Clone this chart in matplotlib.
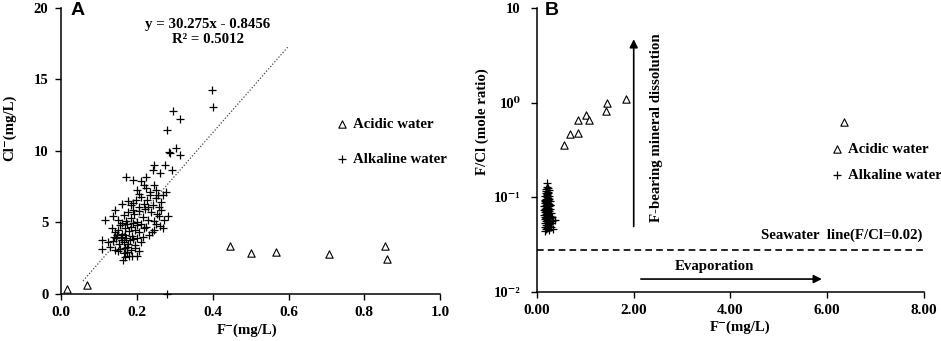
import matplotlib
matplotlib.use("Agg")
import matplotlib.pyplot as plt
from matplotlib.ticker import FixedLocator, FixedFormatter, NullLocator

serif = ["Liberation Serif", "DejaVu Serif"]
plt.rcParams["font.family"] = serif
plt.rcParams["font.weight"] = "bold"

# ---- panel A: Cl- vs F- ----
a_acid_f = [0.016, 0.069, 0.447, 0.500, 0.566, 0.707, 0.854, 0.859]
a_acid_cl = [0.37, 0.61, 3.33, 2.87, 2.91, 2.82, 3.33, 2.45]

a_alk = [
    (0.163, 2.40), (0.170, 2.55), (0.180, 2.68), (0.187, 2.63), (0.200, 2.68), (0.165, 2.85),
    (0.175, 2.95), (0.150, 3.00), (0.142, 3.10), (0.155, 3.15), (0.185, 3.05), (0.195, 3.20),
    (0.107, 3.15), (0.130, 3.30), (0.168, 3.20), (0.205, 3.00),
    (0.107, 3.80), (0.125, 3.60), (0.138, 3.70), (0.145, 3.90), (0.152, 3.50), (0.160, 3.80),
    (0.165, 3.60), (0.172, 3.90), (0.178, 3.50), (0.183, 3.75), (0.190, 3.85), (0.195, 3.40),
    (0.200, 3.90), (0.210, 3.60), (0.215, 4.00), (0.140, 3.95), (0.158, 3.95), (0.175, 3.30),
    (0.188, 4.05), (0.170, 4.10),
    (0.135, 4.60), (0.142, 4.30), (0.150, 4.50), (0.155, 4.80), (0.162, 4.20), (0.168, 4.60),
    (0.175, 4.90), (0.180, 4.40), (0.185, 4.70), (0.190, 4.95), (0.195, 4.50), (0.200, 4.80),
    (0.205, 4.30), (0.218, 4.60), (0.225, 4.70), (0.233, 4.10), (0.244, 4.50), (0.250, 4.90),
    (0.262, 4.73), (0.270, 4.60), (0.160, 4.95), (0.148, 4.10), (0.212, 4.90), (0.240, 4.30),
    (0.117, 5.20), (0.138, 5.43), (0.142, 5.90), (0.150, 5.20), (0.165, 5.50), (0.172, 5.10),
    (0.178, 5.70), (0.185, 5.30), (0.193, 5.60), (0.200, 5.00), (0.207, 5.80), (0.215, 5.40),
    (0.222, 5.95), (0.230, 5.20), (0.238, 5.70), (0.245, 5.10), (0.252, 5.60), (0.259, 5.43),
    (0.265, 5.90), (0.282, 5.48), (0.272, 5.20), (0.190, 5.90),
    (0.160, 6.32), (0.178, 6.48), (0.191, 6.36), (0.198, 6.60), (0.205, 6.10), (0.212, 6.80),
    (0.220, 6.30), (0.228, 6.55), (0.235, 6.90), (0.242, 6.20), (0.250, 6.70), (0.258, 6.10),
    (0.265, 6.45), (0.268, 6.95), (0.185, 6.20), (0.230, 6.05), (0.255, 6.90),
    (0.200, 7.30), (0.205, 7.00), (0.219, 7.65), (0.225, 7.40), (0.235, 7.10), (0.251, 7.30),
    (0.278, 7.13), (0.172, 8.16), (0.190, 8.00), (0.225, 8.16), (0.210, 7.90), (0.245, 7.60),
    (0.242, 8.69), (0.246, 9.00), (0.260, 8.46), (0.273, 9.00), (0.293, 8.69), (0.284, 9.93),
    (0.288, 9.85), (0.304, 10.23), (0.314, 9.70), (0.279, 11.49), (0.296, 12.77), (0.315, 12.26),
    (0.398, 14.24), (0.400, 13.05), (0.280, 0.0),
]
a_alk_f = [p[0] for p in a_alk]
a_alk_cl = [p[1] for p in a_alk]

fit_slope, fit_icpt = 30.275, -0.8456
fit_range = [0.058, 0.60]

# ---- panel B: F/Cl mole ratio vs F- ----
b_acid_f = [0.565, 0.69, 0.84, 0.84, 1.01, 1.08, 1.42, 1.45, 1.85, 6.34]
b_acid_ratio = [0.36, 0.467, 0.478, 0.656, 0.747, 0.66, 0.82, 1.0, 1.09, 0.62]

b_alk = [
    (0.21, 0.140), (0.20, 0.130), (0.22, 0.125), (0.18, 0.118), (0.24, 0.120), (0.19, 0.112),
    (0.23, 0.110), (0.21, 0.105), (0.17, 0.104), (0.25, 0.102), (0.20, 0.100), (0.22, 0.098),
    (0.18, 0.096), (0.24, 0.095), (0.16, 0.093), (0.26, 0.092), (0.21, 0.090), (0.19, 0.089),
    (0.23, 0.088), (0.17, 0.087), (0.25, 0.086), (0.20, 0.085), (0.22, 0.084), (0.18, 0.083),
    (0.27, 0.082), (0.15, 0.081), (0.24, 0.080), (0.21, 0.079), (0.19, 0.078), (0.23, 0.077),
    (0.16, 0.076), (0.26, 0.075), (0.20, 0.074), (0.22, 0.073), (0.18, 0.072), (0.25, 0.071),
    (0.17, 0.070), (0.21, 0.069), (0.24, 0.068), (0.19, 0.067), (0.23, 0.066), (0.15, 0.065),
    (0.27, 0.064), (0.20, 0.063), (0.22, 0.062), (0.18, 0.061), (0.26, 0.060), (0.16, 0.059),
    (0.21, 0.058), (0.24, 0.057), (0.19, 0.056), (0.23, 0.055), (0.17, 0.054), (0.28, 0.054),
    (0.20, 0.053), (0.25, 0.052), (0.18, 0.051), (0.22, 0.050), (0.16, 0.049), (0.27, 0.048),
    (0.21, 0.047), (0.19, 0.046), (0.24, 0.045), (0.17, 0.044), (0.30, 0.056), (0.33, 0.058),
    (0.37, 0.057), (0.34, 0.046), (0.29, 0.049), (0.31, 0.062), (0.20, 0.108), (0.22, 0.115),
    (0.19, 0.122), (0.23, 0.094), (0.17, 0.091), (0.26, 0.083), (0.15, 0.073), (0.28, 0.069),
    (0.16, 0.062), (0.25, 0.058),
]
b_alk_f = [p[0] for p in b_alk]
b_alk_ratio = [p[1] for p in b_alk]
seawater_ratio = 0.028

fig = plt.figure(figsize=(9.41, 3.41), dpi=100)
axA = fig.add_axes([0.0648, 0.138, 0.403, 0.839])
axB = fig.add_axes([0.5707, 0.1437, 0.411, 0.833])

tri = dict(marker="^", s=28, facecolors="white", edgecolors="black", linewidths=0.8)
plus = dict(marker="+", s=26, c="black", linewidths=0.9)
fs = 10.7

for ax in (axA, axB):
    for s in ("top", "right"):
        ax.spines[s].set_visible(False)
    for s in ("left", "bottom"):
        ax.spines[s].set_linewidth(1.1)
    ax.tick_params(direction="out", length=4, width=1.0, labelsize=11, pad=5)

# panel A
axA.scatter(a_acid_f, a_acid_cl, label="Acidic water", zorder=3, **tri)
axA.scatter(a_alk_f, a_alk_cl, label="Alkaline water", zorder=3, clip_on=False, **plus)
axA.plot(fit_range, [fit_slope * x + fit_icpt for x in fit_range], color="#444444",
         lw=0.9, linestyle=(0, (1, 1.5)))
axA.set_xlim(0, 1.0)
axA.set_ylim(0, 20)
axA.set_xticks([0.0, 0.2, 0.4, 0.6, 0.8, 1.0])
axA.set_xticklabels(["0.0", "0.2", "0.4", "0.6", "0.8", "1.0"])
axA.set_yticks([0, 5, 10, 15, 20])
axA.tick_params(axis="y", labelsize=10.5)
axA.set_xlabel("F⁻(mg/L)", fontsize=fs, fontweight="bold")
axA.set_ylabel("Cl⁻(mg/L)", fontsize=fs, fontweight="bold")
axA.xaxis.set_label_coords(0.49, -0.105)
axA.yaxis.set_label_coords(-0.118, 0.58)
axA.text(0.387, 0.915, "y = 30.275x - 0.8456\nR² = 0.5012", transform=axA.transAxes,
         ha="center", va="center", fontsize=fs, fontweight="bold", linespacing=1.15)
axA.text(0.024, 0.99, "A", transform=axA.transAxes, ha="left", va="center",
         fontsize=14, fontweight="bold", family="Liberation Sans")
axA.legend(loc="upper left", bbox_to_anchor=(0.725, 0.615), frameon=False, borderpad=0,
           borderaxespad=0, handlelength=0.8, handletextpad=0.35, labelspacing=1.45,
           prop={"family": serif, "weight": "bold", "size": fs})

# panel B
axB.scatter(b_acid_f, b_acid_ratio, label="Acidic water", zorder=3, **tri)
axB.scatter(b_alk_f, b_alk_ratio, label="Alkaline water", zorder=3, **plus)
axB.set_yscale("log")
axB.set_xlim(0, 8)
axB.set_ylim(0.01, 10)
axB.axhline(seawater_ratio, color="black", lw=1.2, linestyle=(0, (4, 2.5)))
axB.set_xticks([0, 2, 4, 6, 8])
axB.set_xticklabels(["0.00", "2.00", "4.00", "6.00", "8.00"])
axB.yaxis.set_major_locator(FixedLocator([0.01, 0.1, 1, 10]))
axB.yaxis.set_major_formatter(FixedFormatter(["10⁻²", "10⁻¹", "10⁰", "10"]))
axB.yaxis.set_minor_locator(NullLocator())
axB.tick_params(axis="y", labelsize=10.5, pad=8)
axB.set_xlabel("F⁻(mg/L)", fontsize=fs, fontweight="bold")
axB.set_ylabel("F/Cl (mole ratio)", fontsize=fs, fontweight="bold")
axB.xaxis.set_label_coords(0.525, -0.1)
axB.yaxis.set_label_coords(-0.125, 0.6)
axB.annotate("", xy=(2.0, 5.0), xytext=(2.0, 0.046),
             arrowprops=dict(arrowstyle="-|>", color="black", lw=1.2, mutation_scale=12))
axB.annotate("", xy=(5.95, 0.0137), xytext=(2.09, 0.0137),
             arrowprops=dict(arrowstyle="-|>", color="black", lw=1.2, mutation_scale=12))
axB.text(2.48, 0.54, "F-bearing mineral dissolution", rotation=90, ha="center", va="center",
         fontsize=fs, fontweight="bold")
axB.text(3.68, 0.0188, "Evaporation", ha="center", va="center", fontsize=fs, fontweight="bold")
axB.text(7.98, 0.040, "Seawater  line(F/Cl=0.02)", ha="right", va="center", fontsize=fs,
         fontweight="bold")
axB.text(0.02, 0.99, "B", transform=axB.transAxes, ha="left", va="center",
         fontsize=14, fontweight="bold", family="Liberation Sans")
axB.legend(loc="upper left", bbox_to_anchor=(0.76, 0.525), frameon=False, borderpad=0,
           borderaxespad=0, handlelength=0.8, handletextpad=0.35, labelspacing=0.85,
           prop={"family": serif, "weight": "bold", "size": fs})

fig.savefig("out.png", dpi=100)
